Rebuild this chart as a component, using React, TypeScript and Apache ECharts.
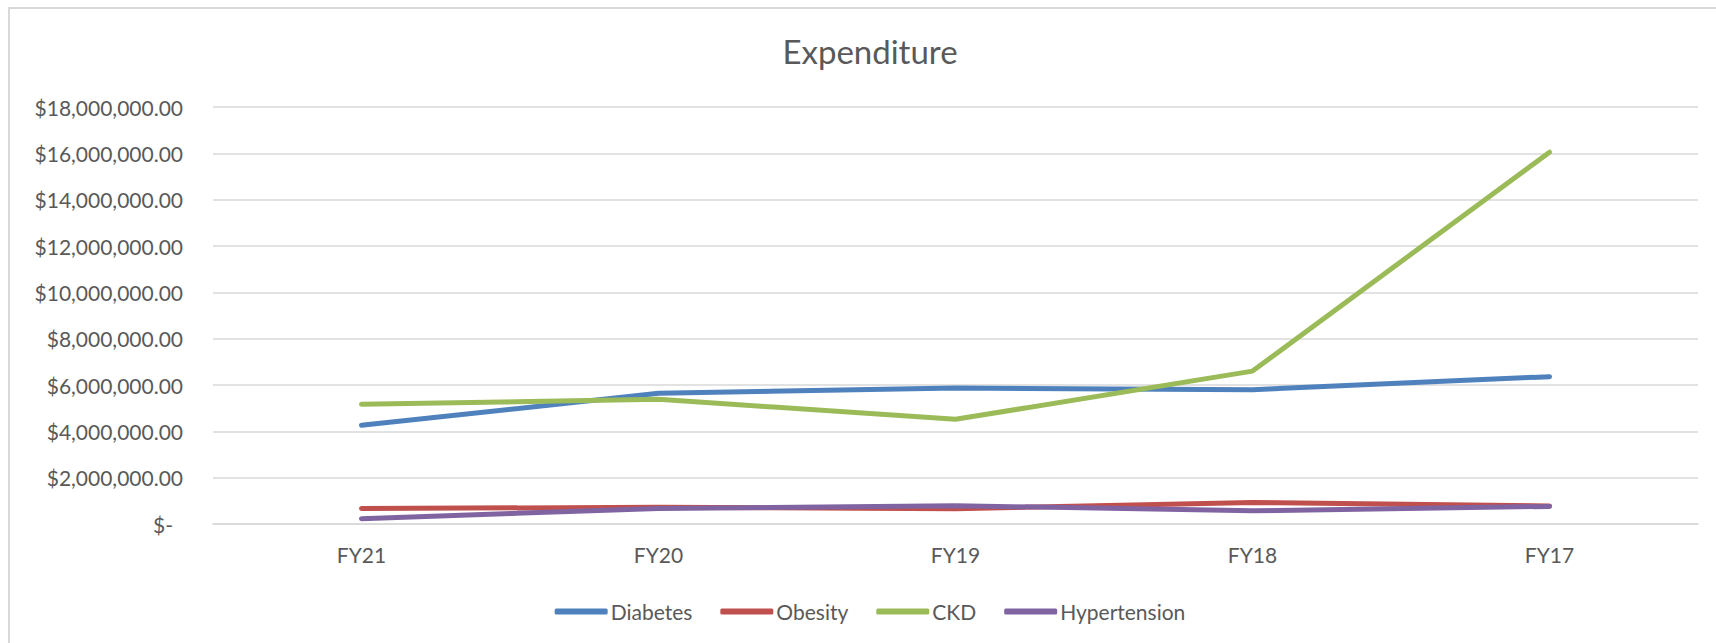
import React, { useEffect, useRef } from "react";
import * as echarts from "echarts";

const categories = ["FY21", "FY20", "FY19", "FY18", "FY17"];
const diabetes = [4260000, 5640000, 5870000, 5800000, 6360000];
const obesity = [670000, 720000, 660000, 930000, 780000];
const ckd = [5170000, 5380000, 4520000, 6600000, 16050000];
const hypertension = [230000, 670000, 790000, 570000, 760000];
const seriesNames = ["Diabetes", "Obesity", "CKD", "Hypertension"];
const seriesColors = ["#4F81BD", "#C0504D", "#9BBB59", "#8064A2"];

const FONT = "Lato, 'Open Sans', sans-serif";
const TEXT = "#595959";

export default function App() {
  const ref = useRef<HTMLDivElement>(null);
  useEffect(() => {
    if (!ref.current) return;
    const chart = echarts.init(ref.current, undefined, { renderer: "svg" });
    const data = [diabetes, obesity, ckd, hypertension];
    chart.setOption({
      animation: false,
      backgroundColor: "#ffffff",
      title: {
        text: "Expenditure",
        left: "center",
        top: 20,
        textStyle: { fontFamily: FONT, fontSize: 33, fontWeight: "normal", color: TEXT },
      },
      legend: {
        data: seriesNames,
        left: "center",
        top: 587,
        icon: "roundRect",
        itemWidth: 53,
        itemHeight: 6,
        itemGap: 28,
        textStyle: { fontFamily: FONT, fontSize: 21, color: TEXT, padding: [0, 0, 0, -2] },
      },
      grid: { left: 203, right: 32, top: 98, bottom: 125, containLabel: false },
      xAxis: {
        type: "category",
        data: categories,
        boundaryGap: true,
        axisLine: { show: true, lineStyle: { color: "#D9D9D9", width: 1.5 } },
        axisTick: { show: false },
        axisLabel: { fontFamily: FONT, fontSize: 21, color: TEXT, margin: 20 },
      },
      yAxis: {
        type: "value",
        min: 0,
        max: 18000000,
        interval: 2000000,
        axisLine: { show: false },
        axisTick: { show: false },
        splitLine: { lineStyle: { color: "#D9D9D9", width: 1.5 } },
        axisLabel: {
          fontFamily: FONT,
          fontSize: 21,
          color: TEXT,
          margin: 30,
          formatter: (v: number) =>
            v === 0
              ? "{z|$-}"
              : "$" + v.toLocaleString("en-US", { minimumFractionDigits: 2, maximumFractionDigits: 2 }),
          rich: { z: { fontFamily: FONT, fontSize: 21, color: TEXT, padding: [0, 10, 0, 0] } },
        },
      },
      series: seriesNames.map((name, i) => ({
        name,
        type: "line",
        data: data[i],
        showSymbol: false,
        symbol: "none",
        color: seriesColors[i],
        lineStyle: { width: 5, color: seriesColors[i], cap: "round", join: "round" },
      })),
    });
    return () => chart.dispose();
  }, []);
  return (
    <div
      style={{
        position: "fixed",
        left: 8,
        top: 7,
        width: 1720,
        height: 640,
        borderLeft: "2px solid #D9D9D9",
        borderTop: "2px solid #D9D9D9",
        background: "#fff",
      }}
    >
      <div ref={ref} style={{ width: 1720, height: 640 }} />
    </div>
  );
}
